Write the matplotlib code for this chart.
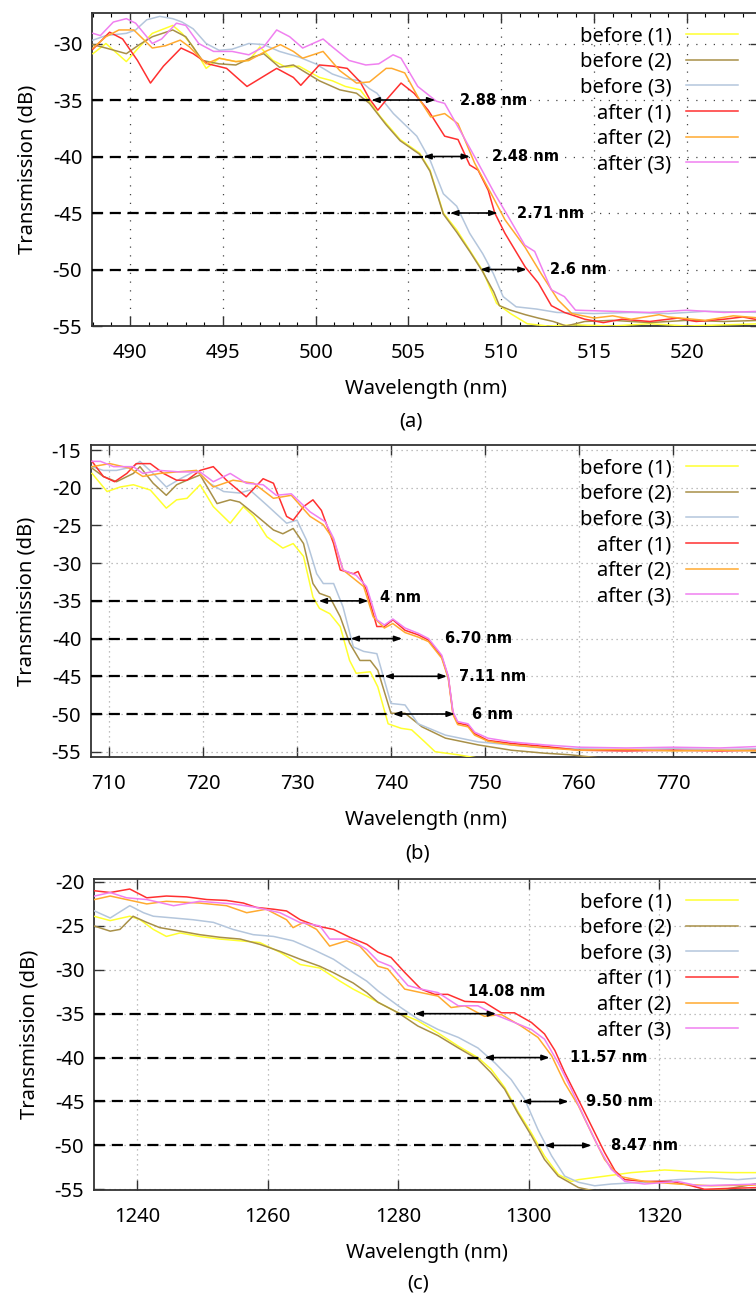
import matplotlib
matplotlib.use('Agg')
import matplotlib.pyplot as plt
from matplotlib.ticker import MultipleLocator

plt.rcParams['font.family'] = ['Noto Sans', 'DejaVu Sans']
plt.rcParams['axes.unicode_minus'] = False

names = ['before (1)', 'before (2)', 'before (3)', 'after (1)', 'after (2)', 'after (3)']
colors = ['#ffff30', '#a89048', '#b4c6dc', '#ff3030', '#ffaa30', '#f080f0']

# ---------------- panel (a) ----------------
a_x_b1 = [488.0, 488.7, 489.8, 490.5, 491.2, 492.3, 492.8, 493.4, 494.1, 494.8, 495.7, 496.4, 497.0, 497.7,
          498.4, 499.1, 500.2, 500.9, 501.6, 502.4, 503.1, 503.5, 504.55, 505.6, 506.16, 506.88, 507.6, 508.3,
          509.0, 509.75, 510.5, 511.4, 512.5, 514.0, 516.0, 518.0, 520.0, 522.0, 524.0]
a_y_b1 = [-30.9, -30.0, -31.6, -30.3, -29.1, -28.4, -29.1, -30.3, -32.2, -31.3, -31.6, -31.5, -30.3, -31.5,
          -32.1, -32.0, -33.0, -33.3, -33.8, -34.1, -35.6, -36.5, -38.5, -39.7, -41.2, -45.0, -46.5, -48.3,
          -50.1, -53.0, -53.9, -54.8, -55.0, -54.9, -55.0, -54.8, -55.0, -54.9, -54.8]
a_x_b2 = [488.0, 488.7, 489.8, 490.5, 491.2, 492.3, 493.0, 493.9, 494.8, 495.7, 496.6, 497.2, 498.05, 498.8,
          500.2, 501.3, 502.2, 502.9, 503.8, 504.55, 505.6, 506.16, 506.88, 507.6, 508.3, 509.0, 509.6, 509.9,
          510.5, 511.3, 512.0, 512.8, 513.5, 514.5, 516.0, 518.0, 520.0, 522.0, 524.0]
a_y_b2 = [-30.1, -30.4, -30.9, -30.1, -29.4, -28.8, -29.4, -31.5, -31.8, -31.9, -31.2, -30.9, -32.1, -31.9,
          -33.3, -34.1, -34.4, -35.3, -37.2, -38.6, -39.8, -41.3, -45.1, -46.7, -48.4, -50.2, -52.0, -53.2,
          -53.6, -54.0, -54.3, -54.6, -55.0, -54.6, -54.5, -54.7, -54.5, -54.6, -54.5]
a_x_b3 = [488.0, 488.7, 489.8, 490.3, 490.9, 491.6, 492.3, 492.8, 493.4, 494.1, 494.8, 495.5, 496.4, 497.2,
          498.05, 499.1, 500.0, 500.9, 501.6, 502.4, 502.9, 503.3, 504.19, 505.45, 506.16, 506.88, 507.6, 508.3,
          509.0, 509.57, 510.1, 510.8, 511.9, 513.0, 515.0, 517.0, 519.0, 521.0, 524.0]
a_y_b3 = [-29.7, -29.3, -29.1, -28.8, -27.9, -27.6, -27.8, -28.1, -28.7, -30.0, -30.6, -30.5, -30.0, -30.1,
          -30.7, -31.2, -31.8, -32.7, -33.1, -33.3, -34.0, -34.4, -36.2, -38.2, -40.3, -43.3, -44.4, -46.8,
          -48.6, -50.35, -52.4, -53.3, -53.5, -53.8, -53.9, -53.8, -53.9, -53.7, -53.8]
a_x_a1 = [488.0, 488.9, 489.6, 490.4, 491.1, 491.8, 492.75, 493.4, 494.2, 495.2, 496.3, 497.0, 497.9, 498.8,
          499.2, 500.2, 500.9, 501.7, 502.4, 502.9, 503.35, 503.8, 504.6, 505.3, 506.06, 506.95, 507.67, 508.3,
          508.75, 509.3, 509.65, 510.2, 511.3, 512.0, 512.7, 513.4, 514.5, 515.5, 516.5, 518.0, 519.5, 520.5,
          522.0, 523.0, 524.0]
a_y_a1 = [-30.5, -29.0, -29.6, -31.5, -33.5, -32.0, -30.4, -30.9, -31.8, -32.2, -33.8, -33.1, -32.2, -33.0,
          -33.7, -31.9, -32.0, -32.2, -33.4, -34.9, -35.9, -35.0, -33.5, -34.4, -35.9, -38.2, -38.5, -40.75,
          -41.2, -43.0, -45.0, -46.8, -49.8, -51.2, -53.2, -53.8, -54.4, -54.7, -54.4, -54.6, -54.3, -54.6,
          -54.4, -54.2, -54.5]
a_x_a2 = [488.0, 488.7, 489.4, 490.2, 490.7, 491.2, 491.9, 492.7, 493.2, 494.1, 494.8, 495.7, 496.4, 497.3,
          498.1, 498.8, 499.3, 500.4, 501.3, 502.2, 502.9, 503.8, 504.1, 504.8, 505.5, 506.2, 506.95, 507.67,
          508.57, 509.46, 510.2, 511.27, 512.16, 513.06, 513.8, 515.0, 516.0, 517.0, 518.5, 519.0, 521.0,
          522.5, 524.0]
a_y_a2 = [-30.4, -29.4, -28.8, -28.8, -29.6, -30.4, -30.2, -29.7, -30.3, -31.8, -31.3, -31.6, -31.5, -30.7,
          -30.1, -30.7, -31.3, -30.7, -32.4, -33.5, -33.4, -32.2, -32.2, -32.6, -34.7, -36.5, -36.2, -37.1,
          -40.6, -43.3, -45.6, -48.0, -50.4, -52.7, -53.9, -54.3, -54.1, -54.4, -54.0, -54.2, -54.5, -54.1,
          -54.3]
a_x_a3 = [488.0, 488.4, 489.1, 489.8, 490.3, 491.2, 491.7, 492.5, 493.0, 493.7, 494.5, 495.5, 496.4, 497.2,
          497.9, 498.6, 499.3, 500.4, 500.9, 501.8, 502.7, 503.4, 504.17, 504.6, 505.5, 506.5, 506.95, 507.85,
          508.76, 509.65, 510.37, 511.27, 511.8, 512.7, 513.4, 514.0, 516.0, 518.0, 520.0, 522.0, 524.0]
a_y_a3 = [-29.1, -29.3, -28.1, -27.8, -28.2, -30.0, -29.6, -28.2, -28.4, -30.0, -30.7, -30.7, -31.0, -30.3,
          -28.8, -29.4, -30.4, -29.6, -30.3, -31.5, -31.9, -31.8, -31.0, -31.3, -33.8, -35.1, -35.3, -37.9,
          -40.6, -43.3, -45.3, -47.85, -48.4, -51.8, -52.4, -53.6, -53.7, -53.8, -53.6, -53.8, -53.7]
a_levels = [-35, -40, -45, -50]
a_starts = [503.0, 505.8, 507.24, 508.86]
a_ends = [506.45, 508.32, 509.8, 511.37]
a_texts = ['2.88 nm', '2.48 nm', '2.71 nm', '2.6 nm']
a_text_x = [507.8, 509.5, 510.83, 512.6]
a_text_y = [-35, -40, -45, -50]

# ---------------- panel (b) ----------------
b_x_b1 = [708.2, 709.8, 711.2, 712.6, 714.4, 716.1, 717.2, 718.3, 719.7, 721.1, 722.9, 724.3, 725.4, 726.8,
          728.5, 729.6, 730.7, 731.7, 732.4, 733.5, 734.6, 735.6, 736.3, 737.8, 738.6, 739.7, 741.1, 742.2,
          743.6, 744.7, 747.1, 750.0, 755.0, 760.0, 765.0, 770.0, 775.0, 779.3]
b_y_b1 = [-18.1, -20.5, -19.9, -19.6, -20.3, -22.7, -21.6, -21.4, -19.6, -22.5, -24.7, -22.5, -23.8, -26.5,
          -28.0, -27.4, -29.1, -34.5, -36.0, -36.7, -38.4, -42.9, -44.6, -44.4, -46.4, -51.3, -51.9, -52.1,
          -53.7, -55.0, -55.4, -56.0, -56.2, -56.2, -56.2, -56.2, -56.2, -56.2]
b_x_b2 = [708.2, 709.4, 710.8, 712.6, 713.3, 714.7, 716.1, 717.2, 718.3, 719.7, 721.5, 722.9, 723.9, 725.4,
          727.5, 728.5, 729.6, 730.7, 731.7, 732.4, 733.5, 734.6, 735.6, 736.7, 737.8, 738.6, 740.0, 741.5,
          743.3, 745.8, 749.3, 752.8, 756.4, 759.0, 762.0, 765.0, 770.0, 775.0, 779.3]
b_y_b2 = [-17.4, -18.5, -19.2, -18.1, -17.2, -19.4, -21.0, -19.6, -19.0, -18.3, -22.1, -21.6, -21.9, -23.4,
          -25.6, -26.1, -25.4, -27.4, -32.7, -34.0, -34.5, -37.1, -40.6, -42.9, -42.9, -44.2, -49.9, -49.9,
          -51.7, -53.2, -54.1, -54.8, -55.2, -55.4, -55.8, -56.0, -56.0, -56.0, -56.0]
b_x_b3 = [708.2, 709.4, 710.8, 712.6, 713.3, 714.7, 716.1, 717.6, 719.3, 720.7, 722.2, 723.9, 725.0, 726.8,
          728.9, 730.0, 731.0, 732.1, 732.8, 733.9, 734.9, 736.0, 737.1, 738.5, 740.0, 741.5, 742.9, 745.8,
          749.3, 752.8, 756.0, 760.0, 765.0, 770.0, 775.0, 779.3]
b_y_b3 = [-17.2, -17.7, -17.7, -17.2, -16.5, -18.1, -19.9, -18.8, -17.7, -19.4, -20.5, -20.7, -20.3, -22.3,
          -24.7, -24.3, -26.9, -31.4, -32.7, -32.7, -35.8, -41.1, -41.7, -42.0, -48.6, -48.8, -51.3, -52.8,
          -53.7, -54.1, -54.5, -54.6, -54.7, -54.6, -54.7, -54.6]
b_x_a1 = [708.2, 709.4, 710.6, 711.9, 712.9, 714.4, 715.8, 717.2, 718.3, 719.7, 721.1, 722.5, 724.6, 726.4,
          727.5, 728.9, 729.6, 730.7, 731.7, 732.6, 733.9, 734.6, 736.0, 736.5, 737.4, 738.5, 739.3, 740.2,
          741.5, 742.9, 744.0, 745.4, 746.1, 746.6, 747.1, 748.2, 748.9, 750.3, 752.8, 756.4, 760.0, 765.0,
          770.0, 775.0, 779.3]
b_y_a1 = [-16.5, -18.5, -19.2, -18.1, -16.8, -16.8, -18.1, -19.0, -19.0, -17.7, -17.2, -19.0, -21.2, -18.8,
          -19.4, -23.8, -24.3, -22.5, -21.6, -23.0, -27.4, -30.9, -31.4, -31.1, -33.6, -38.4, -38.4, -37.5,
          -38.9, -39.5, -40.2, -42.4, -45.1, -49.9, -51.2, -51.5, -52.6, -53.5, -53.9, -54.3, -54.8, -54.9,
          -54.8, -54.9, -54.8]
b_x_a2 = [708.2, 710.1, 712.2, 713.6, 715.4, 717.2, 719.3, 721.1, 723.2, 725.4, 727.5, 729.4, 731.4, 732.8,
          733.9, 734.9, 736.0, 737.1, 738.1, 739.3, 740.2, 741.5, 742.9, 744.0, 745.4, 746.1, 746.6, 747.1,
          748.2, 748.9, 750.3, 752.8, 756.4, 760.0, 765.0, 770.0, 775.0, 779.3]
b_y_a2 = [-17.2, -16.8, -17.4, -18.5, -18.1, -17.9, -17.7, -19.9, -19.0, -19.4, -21.4, -21.0, -23.8, -24.9,
          -26.9, -30.9, -32.0, -33.1, -37.1, -38.6, -38.0, -39.2, -39.8, -40.4, -42.6, -45.3, -50.1, -51.4,
          -51.7, -52.8, -53.6, -54.1, -54.5, -54.8, -54.7, -54.9, -54.8, -54.9]
b_x_a3 = [708.2, 709.1, 710.5, 712.6, 713.6, 715.4, 717.5, 719.7, 721.1, 722.9, 724.6, 726.4, 727.8, 729.4,
          731.4, 733.0, 733.9, 734.9, 736.3, 737.4, 738.5, 739.3, 740.2, 741.5, 742.9, 744.0, 745.4, 746.1,
          746.6, 747.1, 748.2, 748.9, 750.3, 752.8, 756.4, 760.0, 765.0, 770.0, 775.0, 779.3]
b_y_a3 = [-16.5, -16.5, -17.2, -17.2, -18.1, -17.7, -17.9, -17.9, -19.2, -18.1, -19.4, -19.6, -21.0, -20.8,
          -23.2, -24.5, -26.7, -30.9, -31.6, -33.1, -37.5, -38.2, -37.4, -38.6, -39.3, -40.0, -42.2, -45.0,
          -49.7, -51.0, -51.3, -52.4, -53.2, -53.7, -54.1, -54.4, -54.5, -54.4, -54.5, -54.3]
b_levels = [-35, -40, -45, -50]
b_starts = [732.3, 735.7, 739.3, 740.2]
b_ends = [737.6, 741.2, 745.97, 746.8]
b_texts = ['4 nm', '6.70 nm', '7.11 nm', '6 nm']
b_text_x = [738.8, 745.7, 747.2, 748.6]
b_text_y = [-34.6, -40, -45, -50]

# ---------------- panel (c) ----------------
c_x_b1 = [1233.4, 1235.9, 1238.9, 1240.5, 1242.5, 1244.5, 1246.6, 1249.6, 1252.7, 1255.8, 1258.8, 1261.9,
          1265.0, 1268.0, 1271.1, 1273.1, 1275.2, 1276.9, 1280.0, 1283.0, 1286.1, 1289.2, 1292.2, 1294.2,
          1296.3, 1298.3, 1300.4, 1302.4, 1304.5, 1306.5, 1307.6, 1311.7, 1315.7, 1320.8, 1325.9, 1331.0, 1335.4]
c_y_b1 = [-23.9, -24.4, -23.9, -24.3, -25.4, -26.2, -25.8, -26.2, -26.5, -26.7, -26.9, -28.0,
          -29.4, -29.8, -31.3, -32.2, -33.0, -33.7, -34.9, -35.8, -37.2, -38.7, -40.0, -41.3,
          -43.4, -46.1, -48.6, -51.2, -53.3, -54.1, -53.9, -53.5, -53.1, -52.8, -53.0, -53.1, -53.1]
c_x_b2 = [1233.4, 1235.9, 1237.4, 1239.4, 1241.5, 1243.5, 1246.6, 1249.6, 1252.7, 1255.8, 1258.8, 1261.9,
          1265.0, 1268.0, 1270.0, 1273.1, 1275.2, 1276.9, 1280.0, 1283.0, 1286.1, 1289.2, 1292.2, 1294.2,
          1296.3, 1298.3, 1300.4, 1302.4, 1304.5, 1307.6, 1310.1, 1312.6, 1316.0, 1320.0, 1325.0, 1330.0, 1335.4]
c_y_b2 = [-25.0, -25.6, -25.4, -23.9, -24.6, -25.2, -25.6, -26.0, -26.3, -26.5, -27.1, -27.9,
          -28.8, -29.6, -30.3, -31.5, -32.6, -33.7, -34.9, -36.4, -37.5, -38.9, -40.2, -41.7,
          -43.6, -46.3, -48.9, -51.6, -53.5, -54.8, -55.2, -55.3, -55.4, -55.3, -55.2, -55.0, -54.3]
c_x_b3 = [1233.5, 1235.9, 1238.9, 1241.0, 1242.5, 1245.6, 1248.6, 1251.7, 1254.7, 1257.8, 1260.9, 1263.9,
          1267.0, 1270.1, 1273.1, 1275.2, 1276.9, 1280.0, 1283.0, 1286.1, 1289.2, 1292.2, 1294.8, 1297.3,
          1299.4, 1301.4, 1303.5, 1305.5, 1307.6, 1310.1, 1312.6, 1317.7, 1322.8, 1327.9, 1332.0, 1335.4]
c_y_b3 = [-23.3, -24.1, -22.7, -23.5, -23.9, -24.1, -24.3, -24.6, -25.4, -26.0, -26.2, -26.7,
          -27.7, -28.8, -30.3, -31.3, -32.4, -34.1, -35.6, -36.8, -37.7, -38.9, -40.6, -42.5,
          -44.8, -48.2, -51.2, -53.5, -54.2, -54.6, -54.4, -54.2, -53.9, -53.7, -53.9, -53.7]
c_x_a1 = [1233.5, 1235.9, 1238.9, 1241.5, 1244.5, 1247.6, 1250.7, 1253.7, 1256.3, 1258.3, 1260.9, 1262.9,
          1265.0, 1267.5, 1270.1, 1272.6, 1275.2, 1276.9, 1278.9, 1281.0, 1283.5, 1285.6, 1287.6, 1290.2,
          1293.2, 1295.8, 1297.8, 1300.4, 1302.4, 1304.0, 1305.5, 1307.6, 1309.6, 1311.6, 1313.2, 1314.7,
          1317.7, 1321.8, 1324.9, 1326.9, 1330.5, 1335.4]
c_y_a1 = [-21.0, -21.2, -20.8, -21.8, -21.6, -21.7, -22.0, -22.1, -22.4, -22.9, -23.1, -23.3,
          -24.3, -25.0, -25.4, -26.3, -27.1, -28.0, -28.6, -30.3, -32.2, -32.8, -32.8, -33.6,
          -33.7, -34.9, -34.9, -36.0, -37.3, -39.2, -41.7, -44.8, -47.8, -50.8, -52.9, -53.9,
          -54.1, -54.1, -54.6, -55.0, -54.9, -54.8]
c_x_a2 = [1233.5, 1235.9, 1238.4, 1241.5, 1244.5, 1249.6, 1253.7, 1256.8, 1259.8, 1262.9, 1263.9, 1265.5,
          1267.5, 1269.5, 1272.1, 1274.1, 1276.9, 1278.4, 1281.0, 1283.5, 1286.1, 1288.1, 1290.2, 1293.2,
          1295.8, 1298.8, 1301.4, 1303.5, 1305.5, 1307.6, 1309.6, 1311.6, 1313.7, 1317.7, 1322.8, 1327.9, 1335.4]
c_y_a2 = [-22.0, -21.6, -22.0, -22.5, -22.2, -22.4, -22.7, -23.5, -23.1, -24.3, -25.2, -24.6,
          -25.4, -27.3, -26.7, -27.3, -29.6, -29.9, -32.2, -32.6, -33.0, -34.3, -34.1, -35.3,
          -35.1, -36.4, -37.7, -39.8, -42.9, -45.5, -48.6, -51.6, -53.5, -54.1, -54.4, -54.6, -54.5]
c_x_a3 = [1233.5, 1235.9, 1238.4, 1241.5, 1245.6, 1249.6, 1254.7, 1258.3, 1261.9, 1264.9, 1268.0, 1269.5,
          1272.6, 1275.2, 1276.9, 1278.9, 1281.5, 1283.5, 1286.1, 1289.2, 1292.2, 1294.8, 1297.8, 1300.4,
          1302.4, 1304.5, 1306.5, 1308.6, 1310.6, 1312.6, 1314.7, 1317.7, 1322.8, 1325.9, 1335.4]
c_y_a3 = [-21.6, -21.2, -21.8, -22.0, -22.7, -22.2, -22.5, -22.9, -23.5, -24.6, -25.0, -26.5,
          -26.5, -27.7, -29.0, -29.6, -31.8, -32.2, -32.6, -34.1, -34.1, -35.1, -36.0, -36.8,
          -37.9, -40.6, -43.6, -47.0, -50.1, -52.7, -54.1, -54.4, -54.1, -54.6, -54.4]
c_levels = [-35, -40, -45, -50]
c_starts = [1282.5, 1293.2, 1298.9, 1302.4]
c_ends = [1295.0, 1303.2, 1306.1, 1309.6]
c_texts = ['14.08 nm', '11.57 nm', '9.50 nm', '8.47 nm']
c_text_x = [1290.7, 1306.3, 1308.7, 1312.6]
c_text_y = [-32.5, -40, -45, -50]

W, H = 756, 1296
fig = plt.figure(figsize=(W / 100, H / 100), dpi=100)


def add_ax(left, top, right, bottom):
    return fig.add_axes([left / W, 1 - bottom / H, (right - left) / W, (bottom - top) / H])


def panel(ax, xs, ys, xlim, ylim, xstep, ytop, levels, starts, ends, texts, tx, ty, gridls, gridcol, minor):
    for x, y, c, n in zip(xs, ys, colors, names):
        ax.plot(x, y, color=c, lw=1.1, label=n, zorder=3)
    for lv, s, e in zip(levels, starts, ends):
        ax.plot([xlim[0], s], [lv, lv], color='black', lw=1.6, ls=(0, (5, 3)), zorder=4)
        ax.annotate('', xy=(e, lv), xytext=(s, lv),
                    arrowprops=dict(arrowstyle='<|-|>,head_length=0.45,head_width=0.16',
                                    color='black', lw=1.2, shrinkA=0, shrinkB=0), zorder=5)
    for t, x, y in zip(texts, tx, ty):
        ax.text(x, y, t, fontsize=10.5, fontweight='bold', family='DejaVu Sans',
                ha='left', va='center', zorder=6)
    ax.set_xlim(*xlim)
    ax.set_ylim(*ylim)
    ax.xaxis.set_major_locator(MultipleLocator(xstep))
    ax.set_yticks(list(range(-55, ytop + 1, 5)))
    if minor:
        ax.xaxis.set_minor_locator(MultipleLocator(minor))
    ax.tick_params(which='major', direction='in', top=True, right=True, length=7, width=1,
                   labelsize=14.5, pad=7, color='#333333')
    ax.tick_params(axis='x', which='major', pad=12)
    ax.tick_params(which='minor', direction='in', top=True, right=True, length=3, width=0.8)
    ax.grid(True, which='major', ls=gridls, color=gridcol, lw=0.9, zorder=0)
    for sp in ax.spines.values():
        sp.set_linewidth(1.3)
        sp.set_color('#333333')
    ax.set_xlabel('Wavelength (nm)', fontsize=14.5, labelpad=12)
    ax.set_ylabel('Transmission (dB)', fontsize=14.5, labelpad=11)
    ax.legend(loc='upper right', bbox_to_anchor=(0.967, 0.958), frameon=False, markerfirst=False,
              fontsize=14.5, handlelength=2.6, handletextpad=0.7, labelspacing=0.28,
              borderpad=0, borderaxespad=0)


ax_a = add_ax(92, 13, 760, 326)
panel(ax_a, [a_x_b1, a_x_b2, a_x_b3, a_x_a1, a_x_a2, a_x_a3],
      [a_y_b1, a_y_b2, a_y_b3, a_y_a1, a_y_a2, a_y_a3],
      (487.95, 523.94), (-55, -27.3), 5, -30,
      a_levels, a_starts, a_ends, a_texts, a_text_x, a_text_y, (0, (1, 6)), '#444444', 1)

ax_b = add_ax(91, 445, 760, 757)
panel(ax_b, [b_x_b1, b_x_b2, b_x_b3, b_x_a1, b_x_a2, b_x_a3],
      [b_y_b1, b_y_b2, b_y_b3, b_y_a1, b_y_a2, b_y_a3],
      (708.09, 779.26), (-55.7, -14.33), 10, -15,
      b_levels, b_starts, b_ends, b_texts, b_text_x, b_text_y, (0, (1, 3)), '#aaaaaa', None)

ax_c = add_ax(94, 879, 760, 1190)
panel(ax_c, [c_x_b1, c_x_b2, c_x_b3, c_x_a1, c_x_a2, c_x_a3],
      [c_y_b1, c_y_b2, c_y_b3, c_y_a1, c_y_a2, c_y_a3],
      (1233.42, 1335.4), (-55.08, -19.66), 20, -20,
      c_levels, c_starts, c_ends, c_texts, c_text_x, c_text_y, (0, (1, 3)), '#aaaaaa', None)

fig.text(411 / W, 1 - 421 / H, '(a)', fontsize=14.5, ha='center', va='center')
fig.text(418 / W, 1 - 853 / H, '(b)', fontsize=14.5, ha='center', va='center')
fig.text(418 / W, 1 - 1284 / H, '(c)', fontsize=14.5, ha='center', va='center')

fig.savefig('out.png', dpi=100)
